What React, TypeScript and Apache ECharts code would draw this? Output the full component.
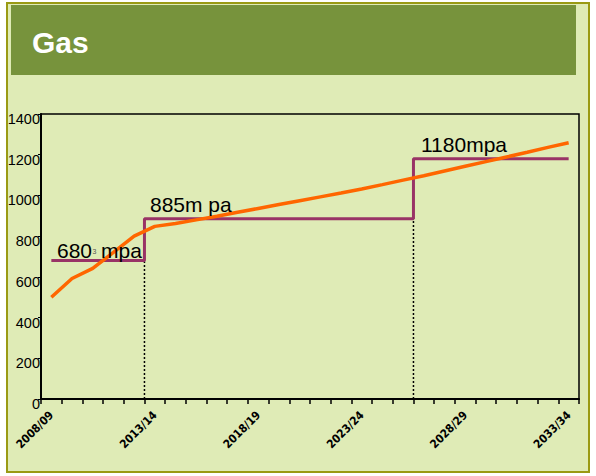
import React, { useEffect, useRef } from "react";
import * as echarts from "echarts";

const categories = [
  "2008/09", "2009/10", "2010/11", "2011/12", "2012/13", "2013/14", "2014/15",
  "2015/16", "2016/17", "2017/18", "2018/19", "2019/20", "2020/21", "2021/22",
  "2022/23", "2023/24", "2024/25", "2025/26", "2026/27", "2027/28", "2028/29",
  "2029/30", "2030/31", "2031/32", "2032/33", "2033/34",
];

// orange demand line
const demand = [
  500, 592, 642, 720, 800, 848, 862, 880, 898, 917, 936, 955, 974, 993, 1012,
  1032, 1053, 1075, 1097, 1120, 1143, 1166, 1189, 1212, 1236, 1259,
];

// purple capacity steps
const capacity = [
  680, 680, 680, 680, 680,
  885, 885, 885, 885, 885, 885, 885, 885, 885, 885, 885, 885, 885,
  1180, 1180, 1180, 1180, 1180, 1180, 1180, 1180,
];

// category boundaries where capacity steps up (dotted drop lines)
const stepBoundaries = [5, 18];

const yTicks = { min: 0, max: 1400, interval: 200 };

const title = "Gas";
const annotation1 = ["680", "3", "mpa"];
const annotation2 = "885m pa";
const annotation3 = "1180mpa";

const LABEL_FONT = "'Liberation Sans', Arial, sans-serif";

export default function App() {
  const ref = useRef<HTMLDivElement>(null);

  useEffect(() => {
    if (!ref.current) return;
    const chart = echarts.init(ref.current, null, { renderer: "svg" });

    const dropSeries = stepBoundaries.map((b) => ({
      type: "line",
      xAxisIndex: 1,
      yAxisIndex: 0,
      data: [
        [b, 0],
        [b, capacity[b - 1]],
      ],
      symbol: "none",
      silent: true,
      z: 2,
      lineStyle: { color: "#000", width: 1.5, type: [2, 2] },
    }));

    chart.setOption({
      animation: false,
      backgroundColor: "#ffffff",
      grid: {
        left: 41,
        top: 114,
        right: 17,
        bottom: 77,
        show: true,
        borderColor: "#000",
        borderWidth: 1.5,
        backgroundColor: "transparent",
      },
      xAxis: [
        {
          type: "category",
          data: categories,
          boundaryGap: true,
          axisLine: { show: true, lineStyle: { color: "#000", width: 2 } },
          axisTick: {
            show: true,
            interval: 0,
            length: 5,
            lineStyle: { color: "#000", width: 1.5 },
          },
          axisLabel: {
            interval: 4,
            rotate: 45,
            margin: 14,
            color: "#000",
            fontSize: 11.5,
            fontWeight: "bold",
            fontFamily: "'DejaVu Sans Condensed', 'DejaVu Sans', Verdana, sans-serif",
          },
          splitLine: { show: false },
        },
        {
          type: "value",
          min: 0,
          max: categories.length,
          show: false,
        },
      ],
      yAxis: {
        type: "value",
        min: yTicks.min,
        max: yTicks.max,
        interval: yTicks.interval,
        axisLine: { show: true, lineStyle: { color: "#000", width: 2 } },
        axisTick: { show: true, length: 3, lineStyle: { color: "#000", width: 1 } },
        axisLabel: {
          color: "#000",
          fontSize: 14.5,
          margin: 1,
          fontFamily: LABEL_FONT,
          verticalAlign: "top",
          lineHeight: 10,
          formatter: (v: number) => String(v),
        },
        splitLine: { show: false },
      },
      graphic: [
        {
          type: "rect",
          z: -10,
          shape: { x: 7, y: 3, width: 582, height: 469 },
          style: { fill: "#DFEBB6", stroke: "#9A9A14", lineWidth: 2 },
        },
        {
          type: "rect",
          z: -9,
          shape: { x: 11, y: 5, width: 565, height: 70 },
          style: { fill: "#77933C" },
        },
        {
          type: "text",
          z: 10,
          x: 32,
          y: 42,
          style: {
            text: title,
            fill: "#ffffff",
            font: `bold 30px ${LABEL_FONT}`,
            verticalAlign: "middle",
            align: "left",
          },
        },
        {
          type: "text",
          z: 10,
          x: 57,
          y: 250,
          style: {
            text: annotation1[0],
            fill: "#000",
            font: `21px ${LABEL_FONT}`,
            verticalAlign: "middle",
          },
        },
        {
          type: "text",
          z: 10,
          x: 92.5,
          y: 251,
          style: {
            text: annotation1[1],
            fill: "#555",
            font: `7px ${LABEL_FONT}`,
            verticalAlign: "middle",
          },
        },
        {
          type: "text",
          z: 10,
          x: 101,
          y: 250,
          style: {
            text: annotation1[2],
            fill: "#000",
            font: `21px ${LABEL_FONT}`,
            verticalAlign: "middle",
          },
        },
        {
          type: "text",
          z: 10,
          x: 150,
          y: 204,
          style: {
            text: annotation2,
            fill: "#000",
            font: `21px ${LABEL_FONT}`,
            verticalAlign: "middle",
          },
        },
        {
          type: "text",
          z: 10,
          x: 421,
          y: 144.5,
          style: {
            text: annotation3,
            fill: "#000",
            font: `21px ${LABEL_FONT}`,
            verticalAlign: "middle",
          },
        },
      ],
      series: [
        {
          name: "Capacity",
          type: "line",
          step: "middle",
          data: capacity,
          symbol: "none",
          z: 3,
          lineStyle: { color: "#993366", width: 3 },
        },
        {
          name: "Demand",
          type: "line",
          data: demand,
          symbol: "none",
          z: 4,
          lineStyle: { color: "#FF6600", width: 3.5 },
        },
        ...dropSeries,
      ],
    });

    return () => chart.dispose();
  }, []);

  return (
    <div
      ref={ref}
      style={{ position: "fixed", left: 0, top: 0, width: 596, height: 476 }}
    />
  );
}
